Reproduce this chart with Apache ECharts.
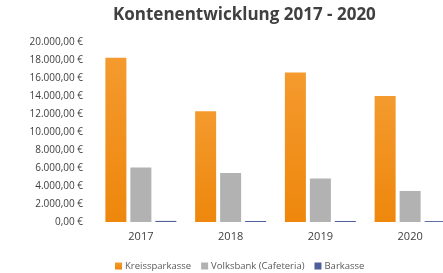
<!DOCTYPE html>
<html>
<head>
<meta charset="utf-8">
<script src="https://cdn.jsdelivr.net/npm/echarts@6/dist/echarts.min.js"></script>
<style>
  html, body { margin: 0; padding: 0; background: #fff; overflow: hidden; }
  /* chart is a bit wider than the window: the last bar is cut off in the original */
  #chart { width: 470px; height: 273px; }
</style>
</head>
<body>
<div id="chart"></div>
<script>
// Daten
const years = ['2017', '2018', '2019', '2020'];
const kreissparkasse = [18250, 12300, 16600, 14000];
const volksbank = [6050, 5450, 4820, 3450];
const barkasse = [120, 110, 110, 100];
const yTicks = [0, 2000, 4000, 6000, 8000, 10000, 12000, 14000, 16000, 18000, 20000];

const fmtEuro = v => {
  const s = v.toFixed(2).split('.');
  return s[0].replace(/\B(?=(\d{3})+(?!\d))/g, '.') + ',' + s[1] + ' €';
};

const myChart = echarts.init(document.getElementById('chart'));
const font = "'Open Sans', 'Noto Sans', sans-serif";

const option = {
  backgroundColor: '#fff',
  animation: false,
  title: {
    text: 'Kontenentwicklung 2017 - 2020',
    left: 108,
    top: 2,
    textStyle: { fontFamily: font, fontSize: 17, fontWeight: 'bold', color: '#404040' }
  },
  legend: {
    data: ['Kreissparkasse', 'Volksbank (Cafeteria)', 'Barkasse'],
    left: 110,
    top: 256,
    itemWidth: 7,
    itemHeight: 7,
    itemGap: 10,
    icon: 'rect',
    textStyle: { fontFamily: font, fontSize: 9.5, color: '#595959', padding: [0, 0, 0, -2] }
  },
  grid: { left: 96, top: 42, width: 359, height: 180 },
  xAxis: {
    type: 'category',
    data: years,
    axisLine: { show: false },
    axisTick: { show: false },
    axisLabel: { fontFamily: font, fontSize: 11, color: '#404040', margin: 9 }
  },
  yAxis: {
    type: 'value',
    min: yTicks[0],
    max: yTicks[yTicks.length - 1],
    interval: 2000,
    splitLine: { show: false },
    axisLine: { show: false },
    axisTick: { show: false },
    axisLabel: { fontFamily: font, fontSize: 10, color: '#404040', margin: 13, formatter: fmtEuro }
  },
  series: [
    {
      name: 'Kreissparkasse',
      type: 'bar',
      data: kreissparkasse,
      barWidth: 21,
      barGap: '19%',
      itemStyle: {
        color: new echarts.graphic.LinearGradient(0, 0, 0, 1, [
          { offset: 0, color: '#F49A2E' },
          { offset: 1, color: '#EE870C' }
        ])
      }
    },
    {
      name: 'Volksbank (Cafeteria)',
      type: 'bar',
      data: volksbank,
      barWidth: 21,
      itemStyle: { color: '#B2B2B2' }
    },
    {
      name: 'Barkasse',
      type: 'bar',
      data: barkasse,
      barWidth: 21,
      itemStyle: { color: '#4E5F9C' }
    }
  ]
};
myChart.setOption(option);
</script>
</body>
</html>
